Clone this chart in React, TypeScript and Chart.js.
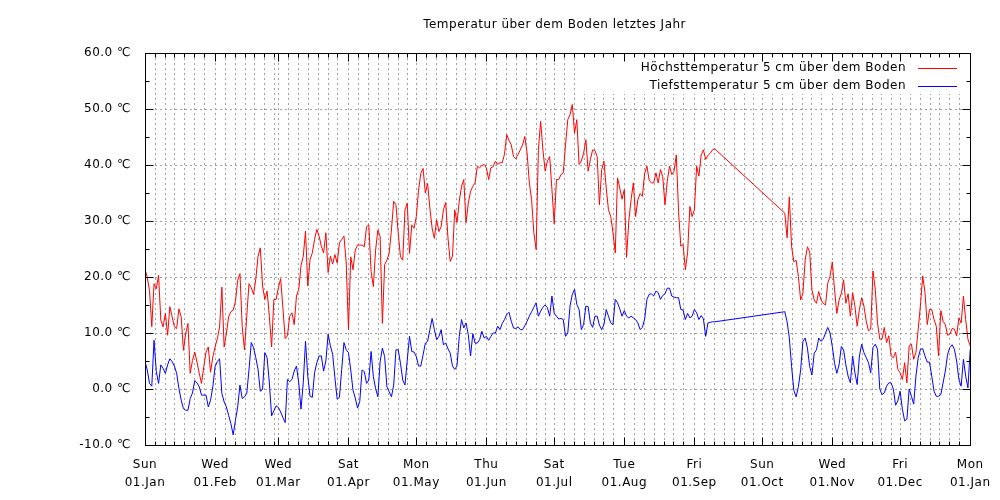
import React, { useEffect, useRef } from 'react';
import { Chart, registerables } from 'chart.js';

Chart.register(...registerables);

// ---- axis / tick data ----
const monthStartDays = [0, 31, 59, 90, 120, 151, 181, 212, 243, 273, 304, 334, 365];
const weekdayLabels = ['Sun', 'Wed', 'Wed', 'Sat', 'Mon', 'Thu', 'Sat', 'Tue', 'Fri', 'Sun', 'Wed', 'Fri', 'Mon'];
const dateLabels = ['01.Jan', '01.Feb', '01.Mar', '01.Apr', '01.May', '01.Jun', '01.Jul', '01.Aug', '01.Sep', '01.Oct', '01.Nov', '01.Dec', '01.Jan'];
const yMajorTicks = [-10, 0, 10, 20, 30, 40, 50, 60];
const yMinorTicks = [-5, 5, 15, 25, 35, 45, 55];
const minorTicksPerMonth = 6;
const minorStepDays = 365.25 / 12 / 7;

const titleText = 'Temperatur über dem Boden letztes Jahr';
const seriesNames = ['Höchsttemperatur 5 cm über dem Boden', 'Tiefsttemperatur 5 cm über dem Boden'];

// ---- daily values, day 0 = 01.Jan ... day 365 = 01.Jan next year (null = no data) ----
const maxTemp: (number | null)[] = [
  21.5, 19.9, 17.6, 11.1, 18.8, 17.9, 20.3, 12.3, 11.1, 13.5,
  9.6, 14.7, 12.9, 11.1, 10.8, 14.3, 12.9, 6.9, 9.9, 11.7,
  2.8, 5.1, 6.6, 4.8, 2.8, 1.0, 4.0, 6.6, 7.5, 3.0,
  5.7, 7.5, 9.0, 11.1, 18.2, 7.5, 9.9, 12.9, 13.8, 14.1,
  15.6, 19.4, 20.6, 11.1, 7.0, 13.0, 18.8, 18.1, 16.9, 19.6,
  23.7, 25.2, 18.4, 16.0, 17.5, 13.0, 7.5, 16.0, 16.0, 18.1,
  19.7, 14.5, 9.0, 9.5, 13.0, 13.6, 11.5, 16.6, 17.8, 22.0,
  23.7, 28.2, 18.4, 23.1, 24.3, 26.7, 28.5, 27.3, 25.5, 24.3,
  27.9, 20.8, 23.7, 22.3, 24.0, 22.5, 26.1, 26.7, 27.3, 22.5,
  10.6, 23.6, 21.3, 24.8, 25.7, 25.7, 25.7, 25.4, 29.0, 29.3,
  21.0, 18.3, 24.8, 28.4, 27.2, 11.7, 22.2, 23.0, 24.2, 28.4,
  33.5, 32.9, 27.8, 23.6, 23.0, 32.0, 33.2, 24.2, 29.3, 28.7,
  30.8, 35.5, 38.5, 39.4, 35.0, 36.7, 32.3, 28.7, 26.9, 30.2,
  28.1, 29.0, 32.0, 33.3, 27.0, 22.8, 23.7, 32.0, 29.7, 33.5,
  36.2, 37.4, 29.7, 33.2, 35.3, 36.2, 36.8, 39.8, 39.5, 39.9,
  40.1, 39.5, 37.4, 39.5, 39.7, 40.7, 40.1, 40.4, 40.4, 41.9,
  45.4, 44.4, 43.6, 41.5, 41.1, 41.9, 42.7, 43.6, 45.1, 42.1,
  36.8, 33.8, 27.9, 24.9, 42.7, 47.8, 42.7, 38.9, 40.7, 41.5,
  35.6, 29.5, 37.4, 37.4, 38.3, 38.6, 43.6, 48.1, 49.0, 50.8,
  45.7, 48.1, 40.1, 40.7, 42.1, 44.5, 38.9, 41.0, 42.7, 42.6,
  41.5, 32.9, 39.2, 40.7, 35.9, 32.0, 30.8, 27.9, 24.3, 37.7,
  35.9, 33.9, 35.6, 23.5, 30.0, 33.8, 36.8, 30.8, 33.8, 34.9,
  34.4, 38.5, 39.8, 37.3, 36.8, 36.8, 38.6, 36.8, 39.2, 37.9,
  32.9, 37.1, 39.8, 38.3, 38.9, 41.8, 31.7, 25.5, 25.8, 21.3,
  24.3, 32.6, 30.8, 32.0, 39.8, 38.0, 41.8, 42.7, 41.0, 41.7,
  42.1, 42.7, 42.9, null, null, null, null, null, null, null,
  null, null, null, null, null, null, null, null, null, null,
  null, null, null, null, null, null, null, null, null, null,
  null, null, null, 31.4, 27.0, 34.3, 25.4, 22.7, 23.0, 20.1,
  15.9, 17.1, 23.0, 25.4, 24.5, 17.7, 15.9, 15.3, 17.4, 15.9,
  15.3, 15.0, 18.9, 20.1, 22.7, 17.7, 13.5, 15.9, 17.1, 19.5,
  15.3, 17.0, 13.0, 17.2, 14.8, 11.2, 14.2, 16.3, 14.8, 12.1,
  10.4, 10.7, 21.1, 17.8, 11.8, 8.9, 8.9, 11.0, 8.3, 9.5,
  5.9, 5.6, 6.6, 3.5, 2.9, 1.7, 4.7, 1.1, 7.7, 8.0,
  5.3, 6.5, 10.7, 15.0, 20.2, 17.2, 11.5, 14.2, 14.2, 12.4,
  11.2, 5.9, 14.0, 12.1, 11.5, 9.6, 9.8, 10.8, 10.7, 9.5,
  12.7, 11.8, 16.6, 12.4, 8.9, 7.7,
];

const minTemp: (number | null)[] = [
  4.9, 3.4, 1.0, 0.5, 8.7, 3.1, 1.0, 4.3, 3.7, 2.8,
  4.3, 5.4, 4.9, 4.1, 2.8, 0.1, -2.0, -3.5, -3.8, -3.8,
  -1.7, -0.7, 1.5, 1.1, 0.4, -1.1, -1.1, -1.1, -3.2, -2.0,
  0.4, 4.0, 4.9, 5.4, -0.8, -2.3, -3.2, -4.7, -6.2, -8.2,
  -5.6, -3.2, 0.7, -1.7, -1.4, -0.8, 3.4, 8.3, 7.4, 5.6,
  3.5, -0.4, -0.1, 6.5, 5.6, 1.1, -4.8, -3.9, -3.0, -3.3,
  -4.1, -5.1, -6.0, 1.7, 1.3, 1.7, 3.2, 4.1, 1.1, -3.6,
  1.1, 8.5, 2.3, -1.3, -1.5, 2.9, 4.7, 5.9, 5.9, 3.2,
  5.0, 9.8, 7.7, 6.2, 2.0, -1.8, -1.5, 3.5, 8.3, 7.0,
  6.5, 3.4, -0.2, -1.6, -3.4, -2.2, 3.4, 3.1, 1.0, 1.6,
  6.7, 2.2, 0.1, -1.4, 4.9, 7.3, 5.8, 0.4, -0.5, -1.4,
  0.7, 7.0, 7.0, 4.6, 1.6, 0.7, 5.2, 9.4, 6.7, 6.6,
  5.8, 4.1, 4.1, 6.1, 8.2, 8.5, 10.6, 12.6, 10.6, 8.8,
  9.4, 10.6, 7.9, 8.2, 7.2, 6.4, 4.1, 3.5, 4.1, 9.4,
  12.4, 10.9, 11.8, 9.7, 5.9, 9.9, 8.2, 8.2, 8.8, 10.3,
  9.1, 9.4, 8.7, 9.4, 10.0, 10.0, 11.2, 10.6, 11.7, 12.4,
  13.3, 13.7, 12.1, 10.9, 10.8, 11.1, 10.6, 10.6, 11.3, 12.1,
  13.0, 13.8, 14.6, 15.4, 13.0, 13.9, 14.6, 15.0, 14.5, 13.0,
  16.6, 13.5, 13.0, 12.5, 12.6, 12.4, 9.4, 10.0, 14.8, 16.9,
  17.8, 15.1, 14.2, 10.6, 11.5, 14.8, 14.7, 11.8, 11.0, 13.0,
  13.0, 11.4, 10.6, 11.5, 14.2, 13.0, 11.8, 11.5, 16.0, 15.4,
  14.3, 13.0, 14.0, 13.0, 12.7, 13.0, 12.7, 12.4, 11.8, 10.6,
  11.0, 12.5, 16.0, 16.9, 17.0, 16.6, 17.5, 17.2, 16.0, 16.7,
  17.0, 18.0, 18.0, 16.6, 16.4, 16.3, 16.3, 14.2, 14.1, 12.4,
  13.5, 12.7, 13.0, 14.2, 13.6, 12.4, 13.1, 12.5, 9.4, 11.8,
  11.9, 12.0, 12.0, null, null, null, null, null, null, null,
  null, null, null, null, null, null, null, null, null, null,
  null, null, null, null, null, null, null, null, null, null,
  null, null, null, 13.8, 12.0, 9.1, 4.0, -0.3, -1.4, 0.4,
  3.4, 8.5, 9.1, 7.3, 4.0, 2.5, 6.4, 7.0, 9.1, 8.5,
  8.9, 10.0, 11.0, 10.0, 7.6, 4.6, 2.8, 4.3, 7.6, 7.0,
  4.3, 2.3, 1.1, 5.9, 2.9, 0.8, 5.9, 8.0, 6.5, 5.6,
  4.7, 2.9, 7.4, 8.0, 7.1, 0.0, -1.0, -0.7, 0.5, 1.1,
  1.1, 0.0, -2.9, -2.1, -0.4, -3.6, -5.7, -5.4, 0.0, -1.3,
  -2.7, 2.3, 5.6, 7.1, 7.2, 5.9, 4.8, 4.8, 2.3, -0.4,
  -1.3, -1.3, -1.0, 1.1, 3.2, 6.2, 7.4, 7.9, 7.1, 5.0,
  1.7, 0.5, 5.3, 2.3, 0.2, 7.0,
];

const FONT = "'DejaVu Sans', sans-serif";

function toPoints(values: (number | null)[]) {
  const pts: { x: number; y: number }[] = [];
  values.forEach((v, i) => {
    if (v !== null) pts.push({ x: i, y: v });
  });
  return pts;
}

function minorDays(): number[] {
  const out: number[] = [];
  for (let m = 0; m < monthStartDays.length - 1; m++) {
    for (let k = 1; k <= minorTicksPerMonth; k++) {
      const d = monthStartDays[m] + k * minorStepDays;
      if (d < monthStartDays[m + 1]) out.push(d);
    }
  }
  return out;
}

const gnuplotFrame = {
  id: 'gnuplotFrame',
  beforeDraw(chart: any) {
    try {
      (chart.ctx as any).letterSpacing = '0.5px';
    } catch (e) {
      /* ignore */
    }
  },
  beforeDatasetsDraw(chart: any) {
    const { ctx, chartArea, scales } = chart;
    const { left, right, top, bottom } = chartArea;
    const x = scales.x;
    const y = scales.y;
    ctx.save();
    ctx.lineWidth = 1;
    ctx.strokeStyle = '#a0a0a0';
    ctx.setLineDash([2, 3]);
    for (const v of yMajorTicks) {
      const py = Math.round(y.getPixelForValue(v)) + 0.5;
      ctx.beginPath();
      ctx.moveTo(left, py);
      ctx.lineTo(right, py);
      ctx.stroke();
    }
    const vDays = [...monthStartDays, ...minorDays()];
    for (const d of vDays) {
      const px = Math.round(x.getPixelForValue(d)) + 0.5;
      ctx.beginPath();
      ctx.moveTo(px, bottom);
      ctx.lineTo(px, top);
      ctx.stroke();
    }
    ctx.restore();
  },
  afterDatasetsDraw(chart: any) {
    const { ctx, chartArea, scales } = chart;
    const { left, right, top, bottom } = chartArea;
    const x = scales.x;
    const y = scales.y;
    ctx.save();
    // key box (opaque)
    ctx.fillStyle = '#ffffff';
    ctx.fillRect(578, top + 1, right - 578 - 1, 40);
    // border
    ctx.setLineDash([]);
    ctx.strokeStyle = '#000000';
    ctx.lineWidth = 1;
    ctx.strokeRect(Math.round(left) + 0.5, Math.round(top) + 0.5, Math.round(right - left), Math.round(bottom - top));
    // ticks (inward, mirrored)
    const L = Math.round(left) + 0.5;
    const R = Math.round(right) + 0.5;
    const T = Math.round(top) + 0.5;
    const B = Math.round(bottom) + 0.5;
    ctx.beginPath();
    const yTick = (v: number, len: number) => {
      const py = Math.round(y.getPixelForValue(v)) + 0.5;
      ctx.moveTo(L, py); ctx.lineTo(L + len, py);
      ctx.moveTo(R, py); ctx.lineTo(R - len, py);
    };
    yMajorTicks.forEach((v) => yTick(v, 8));
    yMinorTicks.forEach((v) => yTick(v, 4));
    const xTick = (d: number, len: number) => {
      const px = Math.round(x.getPixelForValue(d)) + 0.5;
      ctx.moveTo(px, B); ctx.lineTo(px, B - len);
      ctx.moveTo(px, T); ctx.lineTo(px, T + len);
    };
    monthStartDays.forEach((d) => xTick(d, 8));
    minorDays().forEach((d) => xTick(d, 4));
    ctx.stroke();
    // key
    ctx.font = `12px ${FONT}`;
    ctx.fillStyle = '#000000';
    ctx.textAlign = 'right';
    ctx.textBaseline = 'middle';
    const colors = ['#ff0000', '#0000ff'];
    const rowsY = [67.5, 86];
    seriesNames.forEach((name, i) => {
      ctx.fillText(name, 906, rowsY[i]);
      ctx.strokeStyle = colors[i];
      ctx.beginPath();
      ctx.moveTo(918, Math.round(rowsY[i]) + 0.5);
      ctx.lineTo(957, Math.round(rowsY[i]) + 0.5);
      ctx.stroke();
    });
    // title
    ctx.textAlign = 'center';
    ctx.fillText(titleText, (left + right) / 2 - 3, 25);
    ctx.restore();
  },
};

export default function App() {
  const canvasRef = useRef<HTMLCanvasElement | null>(null);

  useEffect(() => {
    if (!canvasRef.current) return;
    Chart.defaults.font.family = FONT;
    Chart.defaults.font.size = 12;
    Chart.defaults.color = '#000000';
    const chart = new Chart(canvasRef.current, {
      type: 'line',
      data: {
        datasets: [
          {
            label: seriesNames[0],
            data: toPoints(maxTemp),
            borderColor: '#ff0000',
            borderWidth: 1,
            pointRadius: 0,
            tension: 0,
          },
          {
            label: seriesNames[1],
            data: toPoints(minTemp),
            borderColor: '#0000ff',
            borderWidth: 1,
            pointRadius: 0,
            tension: 0,
          },
        ],
      },
      options: {
        animation: false,
        responsive: false,
        layout: { padding: { top: 53, right: 27, left: 0, bottom: 0 } },
        plugins: {
          legend: { display: false },
          tooltip: { enabled: false },
          title: { display: false },
        },
        scales: {
          x: {
            type: 'linear',
            min: 0,
            max: 365,
            grid: { display: false, drawTicks: false },
            border: { display: false },
            afterBuildTicks: (scale: any) => {
              scale.ticks = monthStartDays.map((v) => ({ value: v }));
            },
            afterFit: (scale: any) => {
              scale.height = 55;
            },
            ticks: {
              autoSkip: false,
              maxRotation: 0,
              minRotation: 0,
              padding: 11,
              font: { family: FONT, size: 12, lineHeight: 1.5 },
              callback: (_v: any, i: number) => [weekdayLabels[i], dateLabels[i]],
            },
          },
          y: {
            type: 'linear',
            min: -10,
            max: 60,
            grid: { display: false, drawTicks: false },
            border: { display: false },
            afterBuildTicks: (scale: any) => {
              scale.ticks = yMajorTicks.map((v) => ({ value: v }));
            },
            afterFit: (scale: any) => {
              scale.width = 145;
            },
            ticks: {
              padding: 14,
              font: { family: FONT, size: 12 },
              callback: (v: any) => `${Number(v).toFixed(1)} ℃`,
            },
          },
        },
      },
      plugins: [gnuplotFrame],
    });
    return () => chart.destroy();
  }, []);

  return (
    <div style={{ position: 'absolute', left: 0, top: 0, width: 1000, height: 500, background: '#ffffff' }}>
      <canvas ref={canvasRef} width={1000} height={500} style={{ width: 1000, height: 500, display: 'block' }} />
    </div>
  );
}
